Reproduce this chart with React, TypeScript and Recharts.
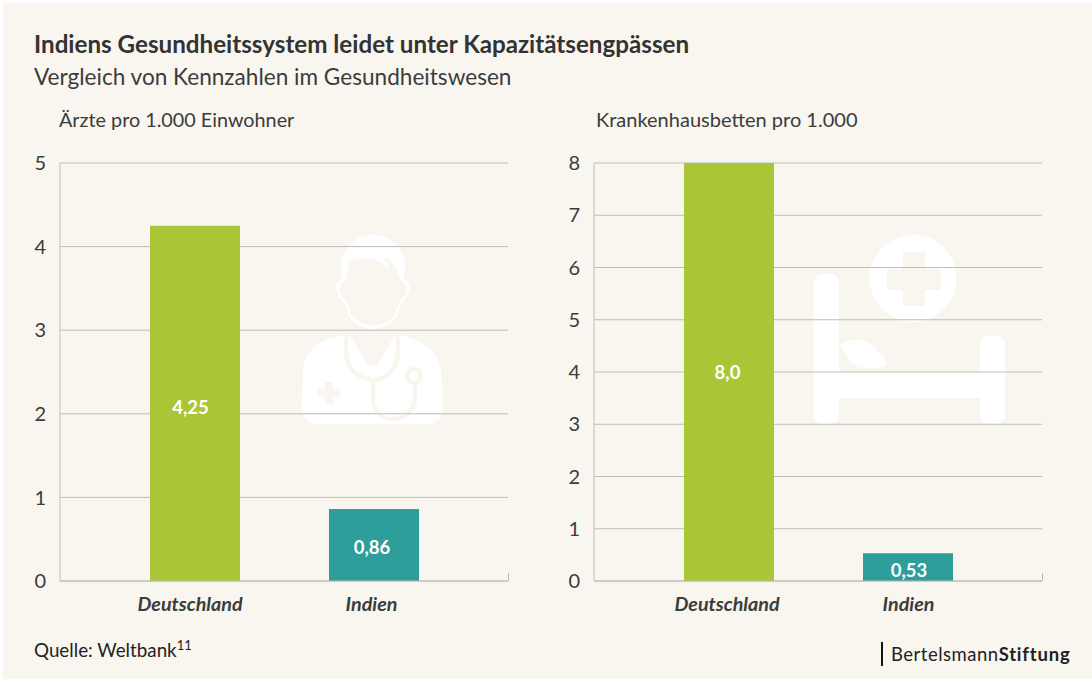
import React from 'react';
import { BarChart, Bar, CartesianGrid, XAxis, YAxis, Cell, LabelList } from 'recharts';

const countries = ['Deutschland', 'Indien'];
const doctors = [4.25, 0.86];
const doctorLabels = ['4,25', '0,86'];
const beds = [8.0, 0.53];
const bedLabels = ['8,0', '0,53'];
const doctorTicks = [0, 1, 2, 3, 4, 5];
const bedTicks = [0, 1, 2, 3, 4, 5, 6, 7, 8];
const barColors = ['#aac637', '#2e9e9b'];

const FONT = 'Lato, sans-serif';
const GRID = '#bdbdb8';
const TEXT = '#3c3c3c';
const BG = '#f8f6ee';

interface PanelProps {
  left: number;
  values: number[];
  labels: string[];
  ticks: number[];
  max: number;
  nudge: number[]; // the original's labels sit a bit off the bar centre
  labelDy: number[];
}

function Panel({ left, values, labels, ticks, max, nudge, labelDy }: PanelProps) {
  const data = countries.map((name, i) => ({ name, value: values[i], label: labels[i] }));

  const renderTick = (props: any) => (
    <text
      x={props.x + nudge[props.index]}
      y={props.y}
      dy={16}
      textAnchor="middle"
      fontFamily={FONT}
      fontSize={19.7}
      fontStyle="italic"
      fontWeight={700}
      fill={TEXT}
    >
      {props.payload.value}
    </text>
  );

  const renderLabel = (props: any) => (
    <text
      x={props.x + props.width / 2 + nudge[props.index]}
      y={props.y + props.height / 2}
      dy={labelDy[props.index]}
      textAnchor="middle"
      fontFamily={FONT}
      fontSize={18.5}
      fontWeight={700}
      fill="#ffffff"
    >
      {props.value}
    </text>
  );

  return (
    <div style={{ position: 'absolute', left, top: 0 }}>
      <BarChart width={510} height={640} data={data} margin={{ top: 163, right: 2, left: 0, bottom: 0 }}>
        <CartesianGrid horizontal vertical={false} stroke={GRID} strokeWidth={1} />
        <XAxis
          dataKey="name"
          height={59}
          padding={{ left: 45, right: 45 }}
          axisLine={{ stroke: GRID }}
          tickLine={false}
          tickMargin={8}
          tick={renderTick}
        />
        <YAxis
          width={60}
          domain={[0, max]}
          ticks={ticks}
          interval={0}
          axisLine={{ stroke: GRID }}
          tickLine={false}
          tickMargin={8}
          tick={{ fontFamily: FONT, fontSize: 20, fill: TEXT }}
        />
        <Bar dataKey="value" barSize={90} isAnimationActive={false}>
          {data.map((d, i) => <Cell key={d.name} fill={barColors[i]} />)}
          <LabelList dataKey="label" content={renderLabel} />
        </Bar>
      </BarChart>
      {/* small closing tick at the right end of the baseline */}
      <div style={{ position: 'absolute', left: 508, top: 573, width: 1, height: 8, background: GRID }} />
    </div>
  );
}

function DoctorIcon() {
  return (
    <svg style={{ position: 'absolute', left: 0, top: 0 }} width={1092} height={679} fill="#ffffff">
      {/* head outline with hair, the face is cut out */}
      <path
        fillRule="evenodd"
        d="M373 235 C392 235 405 250 405 268 L404 280 C409 280 411 286 409 292 C407 298 404 301 401 303 C399 308 399 313 396 318 C390 325 380 329 373 330 C366 329 356 325 350 318 C347 313 347 308 345 303 C342 301 339 298 337 292 C335 286 337 280 342 280 L341 268 C341 250 354 235 373 235 Z
           M350 262 C355 258 368 257 377 260 C383 263 388 268 390 272 C389 266 386 261 383 257 C390 258 394 262 396 268 C398 273 400 277 401 281 C404 282 407 285 407 290 C406 295 403 298 401 300 C398 303 397 310 395 315 C390 321 381 325 373 326 C365 325 356 321 351 315 C349 310 348 303 345 300 C343 298 340 295 339 290 C339 285 342 282 345 281 C347 275 347 267 350 262 Z"
      />
      {/* coat */}
      <path d="M344 335 C330 338 318 342 313 348 C306 355 304 362 303 370 L302 403 C302 416 306 424 317 424 L428 424 C439 424 443 416 443 403 L441 370 C440 362 436 354 428 347 C420 341 410 337 400 335 L395 335 L377 366 L369 366 L349 335 Z" />
      {/* stethoscope and cross are cut out in the background colour */}
      <g fill="none" stroke={BG} strokeWidth={4.5}>
        <path d="M346 335 L346 352 C346 368 358 379 373 380 C388 379 398 368 398 352 L398 335" />
        <path d="M373 380 L373 398 C373 410 382 419 393 419 C405 419 415 410 415 398 L415 384" />
        <circle cx={414} cy={376} r={7} />
      </g>
      <path fill={BG} d="M325 382 L333 382 L333 389 L340 389 L340 397 L333 397 L333 404 L325 404 L325 397 L318 397 L318 389 L325 389 Z" />
    </svg>
  );
}

function BedIcon() {
  return (
    <svg style={{ position: 'absolute', left: 0, top: 0 }} width={1092} height={679} fill="#ffffff">
      <path fillRule="evenodd" d="M913 235 A43.5 43.5 0 1 0 913 322 A43.5 43.5 0 1 0 913 235 Z M903 252 L925 252 L925 269 L941 269 L941 290 L925 290 L925 306 L903 306 L903 290 L887 290 L887 269 L903 269 Z" />
      <rect x="814" y="274" width="25" height="150" rx="8" />
      <rect x="980" y="336" width="25" height="88" rx="8" />
      <rect x="814" y="372" width="190" height="26" />
      <path d="M840 344 C846 341 852 340 858 340 C864 340 870 343 874 347 C879 352 884 358 887 363 C887 366 878 368 870 368 C863 368 859 368 856 366 C850 362 844 354 840 344 Z" />
    </svg>
  );
}

export default function App() {
  return (
    <div style={{ position: 'absolute', left: 0, top: 0, width: 1092, height: 679, background: '#ffffff', overflow: 'hidden' }}>
      <div style={{ position: 'absolute', left: 3, top: 3, width: 1089, height: 676, background: BG }} />
      <DoctorIcon />
      <BedIcon />
      <Panel left={0} values={doctors} labels={doctorLabels} ticks={doctorTicks} max={5} nudge={[-4.5, -2]} labelDy={[11, 9]} />
      <Panel left={534} values={beds} labels={bedLabels} ticks={bedTicks} max={8} nudge={[-1.5, 1]} labelDy={[7, 10]} />
      <div style={{ position: 'absolute', left: 34, top: 29, fontFamily: FONT, fontSize: 24.2, fontWeight: 700, color: '#333', whiteSpace: 'nowrap' }}>Indiens Gesundheitssystem leidet unter Kapazitätsengpässen</div>
      <div style={{ position: 'absolute', left: 34, top: 63, fontFamily: FONT, fontSize: 22.6, color: TEXT, whiteSpace: 'nowrap' }}>Vergleich von Kennzahlen im Gesundheitswesen</div>
      <div style={{ position: 'absolute', left: 59, top: 107, fontFamily: FONT, fontSize: 19.8, color: TEXT, whiteSpace: 'nowrap' }}>Ärzte pro 1.000 Einwohner</div>
      <div style={{ position: 'absolute', left: 596, top: 107, fontFamily: FONT, fontSize: 20, color: TEXT, whiteSpace: 'nowrap' }}>Krankenhausbetten pro 1.000</div>
      <div style={{ position: 'absolute', left: 34, top: 638, fontFamily: FONT, fontSize: 18.8, color: '#222', whiteSpace: 'nowrap' }}>Quelle: Weltbank<sup style={{ fontSize: 13, lineHeight: 0 }}>11</sup></div>
      <div style={{ position: 'absolute', left: 881, top: 642, width: 2, height: 24, background: '#111' }} />
      <div style={{ position: 'absolute', left: 891, top: 643, fontFamily: FONT, fontSize: 18.5, letterSpacing: 0.5, color: '#222', whiteSpace: 'nowrap' }}>Bertelsmann<b style={{ letterSpacing: 0.8 }}>Stiftung</b></div>
    </div>
  );
}
